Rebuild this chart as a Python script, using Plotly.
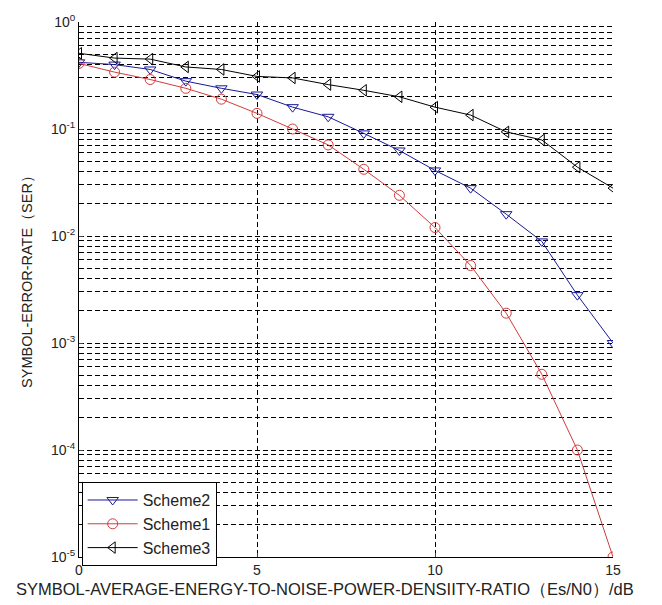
import plotly.graph_objects as go

snr_db = list(range(0, 16))
scheme1 = [0.41, 0.34, 0.29, 0.24, 0.19, 0.14, 0.10, 0.071, 0.042, 0.024,
           0.012, 0.0053, 0.0019, 0.00051, 0.0001, 0.00001]
scheme2 = [0.42, 0.40, 0.36, 0.28, 0.24, 0.21, 0.16, 0.13, 0.091, 0.063,
           0.041, 0.028, 0.016, 0.0089, 0.0028, 0.001]
scheme3 = [0.51, 0.46, 0.45, 0.38, 0.36, 0.31, 0.30, 0.26, 0.23, 0.20,
           0.16, 0.135, 0.094, 0.079, 0.044, 0.028]

ytick_vals = [1, 0.1, 0.01, 0.001, 0.0001, 0.00001]
ytick_text = ["10<sup>0</sup>", "10<sup>-1</sup>", "10<sup>-2</sup>",
              "10<sup>-3</sup>", "10<sup>-4</sup>", "10<sup>-5</sup>"]
xtick_vals = [0, 5, 10, 15]
x_title = "SYMBOL-AVERAGE-ENERGY-TO-NOISE-POWER-DENSIITY-RATIO（Es/N0）/dB"
y_title = "SYMBOL-ERROR-RATE（SER）"

FONT = "Liberation Sans, Arial, sans-serif"
BLUE = "rgb(25,25,150)"
RED = "rgb(210,60,60)"
DASH = "5px,3px"

fig = go.Figure()
fig.add_trace(go.Scatter(x=snr_db, y=scheme2, name="Scheme2", mode="lines+markers",
                         line=dict(color=BLUE, width=1),
                         marker=dict(symbol="triangle-down-open", size=10,
                                     color=BLUE, line=dict(width=1))))
fig.add_trace(go.Scatter(x=snr_db, y=scheme1, name="Scheme1", mode="lines+markers",
                         line=dict(color=RED, width=1),
                         marker=dict(symbol="circle-open", size=10,
                                     color=RED, line=dict(width=1))))
fig.add_trace(go.Scatter(x=snr_db, y=scheme3, name="Scheme3", mode="lines+markers",
                         line=dict(color="black", width=1),
                         marker=dict(symbol="triangle-left-open", size=10,
                                     color="black", line=dict(width=1))))

fig.update_layout(
    width=662, height=605,
    margin=dict(l=71, r=57, t=14, b=56),
    paper_bgcolor="white", plot_bgcolor="white",
    font=dict(family=FONT, size=14, color="#222"),
    showlegend=True,
    legend=dict(x=0.005, y=-0.017, xanchor="left", yanchor="bottom",
                bgcolor="white", bordercolor="black", borderwidth=1,
                font=dict(size=16, color="#222"), tracegroupgap=0,
                itemwidth=50),
    annotations=[
        dict(text=x_title, xref="paper", yref="paper", x=0.4607, y=-0.059,
             xanchor="center", yanchor="middle", showarrow=False,
             font=dict(size=16.5, color="#222")),
        dict(text=y_title, xref="paper", yref="paper", x=-0.097, y=0.522,
             xanchor="center", yanchor="middle", showarrow=False, textangle=-90,
             font=dict(size=14.5, color="#222")),
    ],
)
fig.update_xaxes(
    range=[0, 15], tickvals=xtick_vals, ticks="inside", ticklen=4,
    showline=True, linecolor="black", linewidth=1, mirror=False,
    showgrid=True, gridcolor="black", griddash=DASH, gridwidth=1,
    zeroline=False, automargin=False,
    tickfont=dict(size=14, color="#222"),
)
fig.update_yaxes(
    type="log", range=[-5, 0], tickvals=ytick_vals, ticktext=ytick_text,
    ticks="inside", ticklen=4, automargin=False,
    showline=True, linecolor="black", linewidth=1, mirror=False,
    showgrid=True, gridcolor="black", griddash=DASH, gridwidth=1,
    minor=dict(showgrid=True, gridcolor="black", griddash=DASH, gridwidth=1,
               dtick="D1", ticks=""),
    tickfont=dict(size=14, color="#222"),
)

fig.write_html("out.html")
